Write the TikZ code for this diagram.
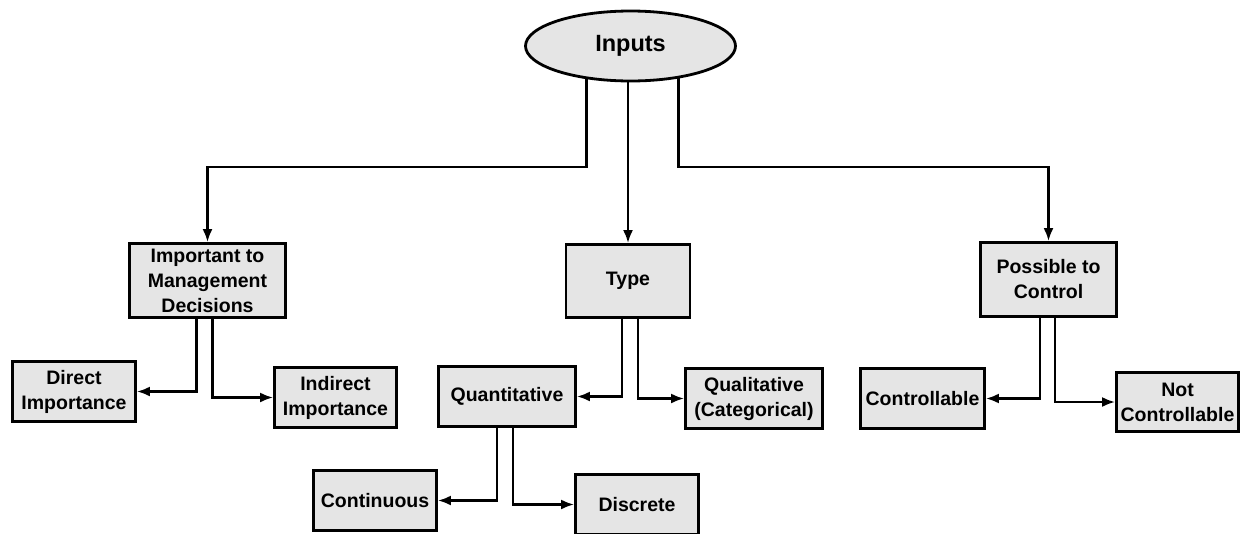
\documentclass[tikz,border=0pt]{standalone}
\usepackage{fontspec}
\setmainfont{Liberation Sans}
\usepackage{tikz}
\usetikzlibrary{arrows.meta,shapes.geometric}
\usetikzlibrary{positioning}
\tikzset{>={Latex[length=13pt,width=10pt]}}

\begin{document}
\begin{tikzpicture}[x=1pt,y=-1pt,
	box/.style={draw,line width=2.8pt,fill=black!10,align=center,inner sep=0pt,
		font=\fontsize{19.5}{25}\selectfont\bfseries},
	root/.style={ellipse,draw,line width=2.8pt,fill=black!10,inner sep=0pt,
		minimum width=210pt,minimum height=70pt,font=\fontsize{23.5}{28}\selectfont\bfseries},
	link/.style={->,line width=2.4pt}]
	\useasboundingbox (0,0) rectangle (1241,533);
	% root and first level
	\node[root] (inputs) at (630.5,46) {Inputs};
	\node[box,minimum width=156pt,minimum height=74pt] (imp) at (207.5,280.5) {Important to\\Management\\Decisions};
	\node[box,minimum width=124pt,minimum height=73pt] (type) at (628,281) {Type};
	\node[box,minimum width=136pt,minimum height=74pt] (poss) at (1048.5,279.5) {Possible to\\Control};
	% second level
	\node[box,minimum width=123pt,minimum height=60pt] (direct) at (74,391.5) {Direct\\Importance};
	\node[box,minimum width=122pt,minimum height=60pt] (indirect) at (335.5,397.5) {Indirect\\Importance};
	\node[box,minimum width=137pt,minimum height=60pt] (quant) at (507,396.5) {Quantitative};
	\node[box,minimum width=137pt,minimum height=60pt] (qual) at (754,398.5) {Qualitative\\(Categorical)};
	\node[box,minimum width=124pt,minimum height=60pt] (ctrl) at (922.5,398.5) {Controllable};
	\node[box,minimum width=122pt,minimum height=59pt] (notc) at (1177.5,402) {Not\\Controllable};
	% third level
	\node[box,minimum width=123pt,minimum height=60pt] (cont) at (375,500.5) {Continuous};
	\node[box,minimum width=123pt,minimum height=60pt] (disc) at (637,504.5) {Discrete};
	% connectors
	\coordinate (split) at (0,167);
	\draw[link] (inputs.217) -- (inputs.217 |- split) -| (imp.north);
	\draw[link] (inputs.south -| type.north) -- (type.north);
	\draw[link] (inputs.326) -- (inputs.326 |- split) -| (poss.north);
	\draw[link] ([xshift=-11pt]imp.south) |- (direct.east);
	\draw[link] ([xshift=5pt]imp.south) |- (indirect.west);
	\draw[link] ([xshift=-6pt]type.south) |- (quant.east);
	\draw[link] ([xshift=10pt]type.south) |- (qual.west);
	\draw[link] ([xshift=-10pt]quant.south) |- (cont.east);
	\draw[link] ([xshift=6pt]quant.south) |- (disc.west);
	\draw[link] ([xshift=-8.5pt]poss.south) |- (ctrl.east);
	\draw[link] ([xshift=6.5pt]poss.south) |- (notc.west);
\end{tikzpicture}
\end{document}
